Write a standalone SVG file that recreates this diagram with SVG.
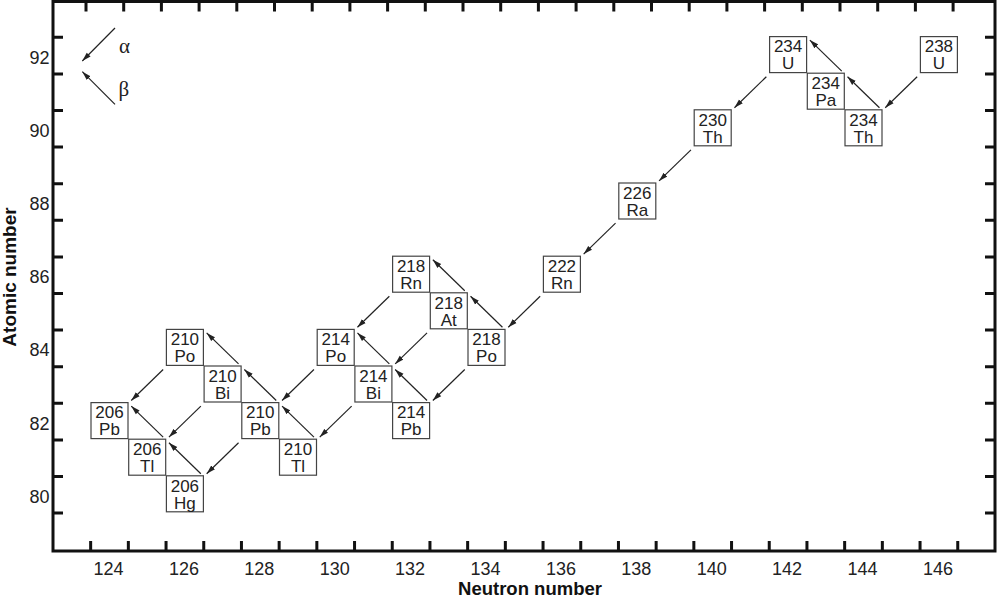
<svg xmlns="http://www.w3.org/2000/svg" width="1000" height="597" viewBox="0 0 1000 597">
<defs>
<marker id="ah" markerWidth="10" markerHeight="7" refX="9" refY="3.5" orient="auto" markerUnits="userSpaceOnUse"><path d="M0,0.8 L9,3.5 L0,6.2 z" fill="#222"/></marker>
<style>
.frame{fill:none;stroke:#111;stroke-width:3}
.tick{stroke:#111;stroke-width:3}
.lbl{font-family:"Liberation Sans",Arial,sans-serif;font-size:18px;fill:#222}
.ylbl{text-anchor:end}
.xlbl{text-anchor:middle}
.title{font-family:"Liberation Sans",Arial,sans-serif;font-size:19px;font-weight:bold;fill:#111;text-anchor:middle}
.box rect{fill:#fff;stroke:#444;stroke-width:1.2}
.box text{font-family:"Liberation Sans",Arial,sans-serif;font-size:17px;fill:#222;text-anchor:middle}
.arr line{stroke:#222;stroke-width:1.2;marker-end:url(#ah)}
.greek{font-family:"Liberation Serif","Times New Roman",serif;font-size:21px;fill:#222}
</style>
</defs>
<rect class="frame" x="53" y="1.5" width="942" height="549.5"/>
<g id="ticks">
<path class="tick" d="M53,37.3h10M53,73.9h10M53,110.5h10M53,147.1h10M53,183.7h10M53,220.3h10M53,256.9h10M53,293.5h10M53,330.1h10M53,366.7h10M53,403.3h10M53,439.9h10M53,476.5h10M53,513.1h10"/>
<path class="tick" d="M995,37.3h-10M995,73.9h-10M995,110.5h-10M995,147.1h-10M995,183.7h-10M995,220.3h-10M995,256.9h-10M995,293.5h-10M995,330.1h-10M995,366.7h-10M995,403.3h-10M995,439.9h-10M995,476.5h-10M995,513.1h-10"/>
<path class="tick" d="M90.65,551v-10M128.35,551v-10M166.05,551v-10M203.75,551v-10M241.45,551v-10M279.15,551v-10M316.85,551v-10M354.55,551v-10M392.25,551v-10M429.95,551v-10M467.65,551v-10M505.35,551v-10M543.05,551v-10M580.75,551v-10M618.45,551v-10M656.15,551v-10M693.85,551v-10M731.55,551v-10M769.25,551v-10M806.95,551v-10M844.65,551v-10M882.35,551v-10M920.05,551v-10M957.75,551v-10"/>
<path class="tick" d="M86,1.5v10M123.7,1.5v10M161.4,1.5v10M199.1,1.5v10M236.8,1.5v10M274.5,1.5v10M312.2,1.5v10M349.9,1.5v10M387.6,1.5v10M425.3,1.5v10M463,1.5v10M500.7,1.5v10M538.4,1.5v10M576.1,1.5v10M613.8,1.5v10M651.5,1.5v10M689.2,1.5v10M726.9,1.5v10M764.6,1.5v10M802.3,1.5v10M840,1.5v10M877.7,1.5v10M915.4,1.5v10M953.1,1.5v10"/>
</g>
<g id="y-labels" class="lbl ylbl">
<text x="49.5" y="63.6">92</text>
<text x="49.5" y="136.8">90</text>
<text x="49.5" y="210">88</text>
<text x="49.5" y="283.2">86</text>
<text x="49.5" y="356.4">84</text>
<text x="49.5" y="429.6">82</text>
<text x="49.5" y="502.8">80</text>
</g>
<g id="x-labels" class="lbl xlbl">
<text x="108.5" y="574.5">124</text>
<text x="183.9" y="574.5">126</text>
<text x="259.3" y="574.5">128</text>
<text x="334.7" y="574.5">130</text>
<text x="410.1" y="574.5">132</text>
<text x="485.5" y="574.5">134</text>
<text x="560.9" y="574.5">136</text>
<text x="636.3" y="574.5">138</text>
<text x="711.7" y="574.5">140</text>
<text x="787.1" y="574.5">142</text>
<text x="862.5" y="574.5">144</text>
<text x="937.9" y="574.5">146</text>
</g>
<text class="title" x="530" y="595" style="font-size:18.5px">Neutron number</text>
<text class="title" transform="translate(16,277) rotate(-90)" x="0" y="0">Atomic number</text>
<g id="legend">
<g class="arr"><line x1="115" y1="28" x2="82.3" y2="61"/><line x1="115" y1="104.3" x2="82.3" y2="71.7"/></g>
<text class="greek" x="119" y="52.5">α</text>
<text class="greek" x="118.5" y="96">β</text>
</g>
<g id="connectors" class="arr">
<line x1="917.15" y1="76.7" x2="885.25" y2="107.7"/>
<line x1="766.35" y1="76.7" x2="734.45" y2="107.7"/>
<line x1="690.95" y1="149.9" x2="659.05" y2="180.9"/>
<line x1="615.55" y1="223.1" x2="583.65" y2="254.1"/>
<line x1="540.15" y1="296.3" x2="508.25" y2="327.3"/>
<line x1="464.75" y1="369.5" x2="432.85" y2="400.5"/>
<line x1="427.05" y1="332.9" x2="395.15" y2="363.9"/>
<line x1="389.35" y1="296.3" x2="357.45" y2="327.3"/>
<line x1="313.95" y1="369.5" x2="282.05" y2="400.5"/>
<line x1="351.65" y1="406.1" x2="319.75" y2="437.1"/>
<line x1="163.15" y1="369.5" x2="131.25" y2="400.5"/>
<line x1="200.85" y1="406.1" x2="168.95" y2="437.1"/>
<line x1="238.55" y1="442.7" x2="206.65" y2="473.7"/>
<line x1="879.45" y1="107.7" x2="847.55" y2="76.7"/>
<line x1="841.75" y1="71.1" x2="809.85" y2="40.1"/>
<line x1="502.45" y1="327.3" x2="470.55" y2="296.3"/>
<line x1="464.75" y1="290.7" x2="432.85" y2="259.7"/>
<line x1="427.05" y1="400.5" x2="395.15" y2="369.5"/>
<line x1="389.35" y1="363.9" x2="357.45" y2="332.9"/>
<line x1="313.95" y1="437.1" x2="282.05" y2="406.1"/>
<line x1="276.25" y1="400.5" x2="244.35" y2="369.5"/>
<line x1="238.55" y1="363.9" x2="206.65" y2="332.9"/>
<line x1="163.15" y1="437.1" x2="131.25" y2="406.1"/>
<line x1="200.85" y1="473.7" x2="168.95" y2="442.7"/>
</g>
<g id="n-206Pb" class="box"><rect x="91" y="402.6" width="37" height="36"/><text x="109.5" y="418.3">206</text><text x="109.5" y="435.3">Pb</text></g>
<g id="n-206Tl" class="box"><rect x="128.7" y="439.2" width="37" height="36"/><text x="147.2" y="454.9">206</text><text x="147.2" y="471.9">Tl</text></g>
<g id="n-206Hg" class="box"><rect x="166.4" y="475.8" width="37" height="36"/><text x="184.9" y="491.5">206</text><text x="184.9" y="508.5">Hg</text></g>
<g id="n-210Po" class="box"><rect x="166.4" y="329.4" width="37" height="36"/><text x="184.9" y="345.1">210</text><text x="184.9" y="362.1">Po</text></g>
<g id="n-210Bi" class="box"><rect x="204.1" y="366" width="37" height="36"/><text x="222.6" y="381.7">210</text><text x="222.6" y="398.7">Bi</text></g>
<g id="n-210Pb" class="box"><rect x="241.8" y="402.6" width="37" height="36"/><text x="260.3" y="418.3">210</text><text x="260.3" y="435.3">Pb</text></g>
<g id="n-210Tl" class="box"><rect x="279.5" y="439.2" width="37" height="36"/><text x="298" y="454.9">210</text><text x="298" y="471.9">Tl</text></g>
<g id="n-214Po" class="box"><rect x="317.2" y="329.4" width="37" height="36"/><text x="335.7" y="345.1">214</text><text x="335.7" y="362.1">Po</text></g>
<g id="n-214Bi" class="box"><rect x="354.9" y="366" width="37" height="36"/><text x="373.4" y="381.7">214</text><text x="373.4" y="398.7">Bi</text></g>
<g id="n-214Pb" class="box"><rect x="392.6" y="402.6" width="37" height="36"/><text x="411.1" y="418.3">214</text><text x="411.1" y="435.3">Pb</text></g>
<g id="n-218Rn" class="box"><rect x="392.6" y="256.2" width="37" height="36"/><text x="411.1" y="271.9">218</text><text x="411.1" y="288.9">Rn</text></g>
<g id="n-218At" class="box"><rect x="430.3" y="292.8" width="37" height="36"/><text x="448.8" y="308.5">218</text><text x="448.8" y="325.5">At</text></g>
<g id="n-218Po" class="box"><rect x="468" y="329.4" width="37" height="36"/><text x="486.5" y="345.1">218</text><text x="486.5" y="362.1">Po</text></g>
<g id="n-222Rn" class="box"><rect x="543.4" y="256.2" width="37" height="36"/><text x="561.9" y="271.9">222</text><text x="561.9" y="288.9">Rn</text></g>
<g id="n-226Ra" class="box"><rect x="618.8" y="183" width="37" height="36"/><text x="637.3" y="198.7">226</text><text x="637.3" y="215.7">Ra</text></g>
<g id="n-230Th" class="box"><rect x="694.2" y="109.8" width="37" height="36"/><text x="712.7" y="125.5">230</text><text x="712.7" y="142.5">Th</text></g>
<g id="n-234U" class="box"><rect x="769.6" y="36.6" width="37" height="36"/><text x="788.1" y="52.3">234</text><text x="788.1" y="69.3">U</text></g>
<g id="n-234Pa" class="box"><rect x="807.3" y="73.2" width="37" height="36"/><text x="825.8" y="88.9">234</text><text x="825.8" y="105.9">Pa</text></g>
<g id="n-234Th" class="box"><rect x="845" y="109.8" width="37" height="36"/><text x="863.5" y="125.5">234</text><text x="863.5" y="142.5">Th</text></g>
<g id="n-238U" class="box"><rect x="920.4" y="36.6" width="37" height="36"/><text x="938.9" y="52.3">238</text><text x="938.9" y="69.3">U</text></g>
</svg>
